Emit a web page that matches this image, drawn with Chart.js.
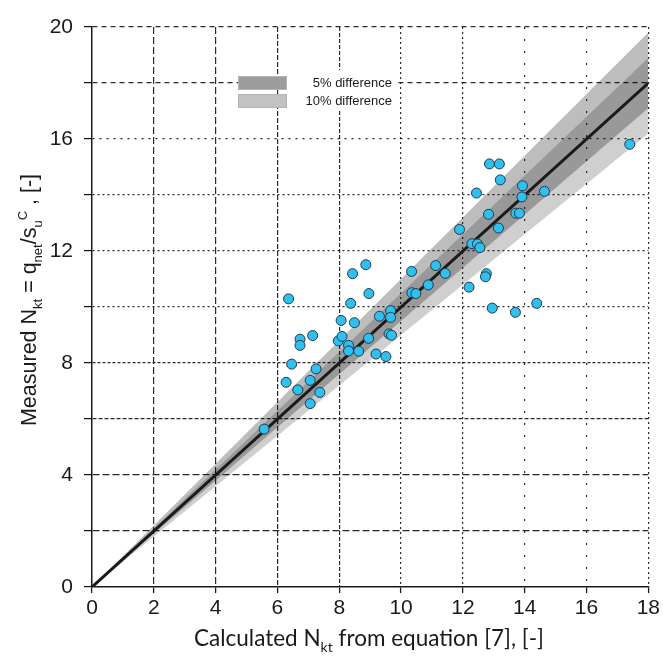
<!DOCTYPE html>
<html>
<head>
<meta charset="utf-8">
<script src="https://cdn.jsdelivr.net/npm/chart.js@4/dist/chart.umd.min.js"></script>
<style>
  html, body { margin: 0; padding: 0; background: #fff; }
  #wrap { width: 663px; height: 659px; }
</style>
</head>
<body>
<div id="wrap"><canvas id="chartNkt" width="663" height="659"></canvas></div>
<script>
/* ---- dados ---- */
var CALC_NKT = [5.57, 6.36, 6.46, 6.28, 6.73, 6.73, 7.14, 6.66, 7.06, 7.25, 7.06, 7.37,
                7.97, 8.09, 8.06, 8.30, 8.30, 8.63, 8.49, 8.37, 8.43, 8.86, 8.96, 8.95,
                9.19, 9.51, 9.30, 9.66, 9.66, 9.61, 9.69, 10.34, 10.35, 10.48, 10.88, 11.12,
                17.40, 12.86, 13.18, 13.21, 12.44, 13.93, 13.91, 14.64, 12.83, 13.71, 13.83,
                13.15, 11.89, 12.29, 12.47, 12.55, 11.43, 12.20, 12.76, 12.73, 12.95, 13.70, 14.39];
var MEAS_NKT = [5.64, 10.29, 7.96, 7.31, 8.85, 8.63, 8.98, 7.04, 7.38, 7.79, 6.55, 6.95,
                8.79, 8.95, 9.52, 8.63, 8.43, 8.42, 9.44, 10.13, 11.19, 11.51, 10.48, 8.88,
                8.32, 8.23, 9.67, 9.87, 9.63, 9.04, 8.99, 11.27, 10.51, 10.48, 10.79, 11.48,
                15.81, 15.11, 15.11, 14.54, 14.07, 14.33, 13.93, 14.13, 13.31, 13.35, 13.35,
                12.82, 12.77, 12.26, 12.25, 12.12, 11.20, 10.71, 11.19, 11.08, 9.96, 9.81, 10.13];

var LINE_X       = [0, 18];                    // linha 1:1
var BAND_FACTORS = [1.10, 1.05, 0.95, 0.90];   // limites 10% / 5%
var X_TICKS      = [0, 2, 4, 6, 8, 10, 12, 14, 16, 18];
var Y_TICKS      = [0, 4, 8, 12, 16, 20];
var LEGEND_LABELS = ['5% difference', '10% difference'];

/* estilos de tracejado da grade (por valor) */
var X_DASH = {2: [7, 3], 4: [7, 3], 6: [5, 2], 8: [4, 2], 10: [2, 3], 12: [2, 3], 14: [2, 10], 16: [2, 10], 18: [2, 3]};
var Y_DASH = {2: [7, 3], 4: [7, 3], 6: [4, 2], 8: [3, 2], 10: [2, 3], 12: [2, 3], 14: [2, 3], 16: [2, 5], 18: [5, 4], 20: [5, 4]};

var SANS = '"Liberation Sans", Arial, Helvetica, sans-serif';
Chart.defaults.font.family = SANS;
var TICK_FONT = { family: SANS, size: 21 };

function linePts(f) {
    return LINE_X.map(function(x) { return { x: x, y: x * f }; });
}

var pts = CALC_NKT.map(function(x, i) { return { x: x, y: MEAS_NKT[i] }; });

/* ---- títulos com subscrito / sobrescrito ---- */
function drawRich(ctx, parts, size, family) {
    var total = 0;
    parts.forEach(function(p) {
        ctx.font = (p.s ? Math.round(size * 0.62) : size) + 'px ' + family;
        p.w = ctx.measureText(p.t).width;
        total += p.w;
    });
    var x = -total / 2;
    parts.forEach(function(p) {
        ctx.font = (p.s ? Math.round(size * 0.62) : size) + 'px ' + family;
        var dy = p.s === 'sub' ? size * 0.28 : (p.s === 'sup' ? -size * 0.42 : 0);
        ctx.fillText(p.t, x, dy);
        x += p.w;
    });
}

var titlesPlugin = {
    id: 'titlesNkt',
    afterDraw: function(chart) {
        var ctx = chart.ctx;
        ctx.save();
        ctx.fillStyle = '#1a1a1a';
        ctx.textBaseline = 'alphabetic';
        ctx.textAlign = 'left';
        // eixo x
        ctx.save();
        ctx.translate(369, 646);
        drawRich(ctx, [
            { t: 'Calculated N' }, { t: 'kt', s: 'sub' }, { t: ' from equation [7], [-]' }
        ], 22.5, 'Lato, "Open Sans", sans-serif');
        ctx.restore();
        // eixo y
        ctx.save();
        ctx.translate(36, 300);
        ctx.rotate(-Math.PI / 2);
        drawRich(ctx, [
            { t: 'Measured N' }, { t: 'kt', s: 'sub' }, { t: ' = q' }, { t: 'net', s: 'sub' },
            { t: '/s' }, { t: 'u', s: 'sub' }, { t: 'C', s: 'sup' }, { t: ' , [-]' }
        ], 21.5, SANS);
        ctx.restore();
        ctx.restore();
    }
};

/* ---- legenda das faixas ---- */
var legendPlugin = {
    id: 'legendBands',
    afterDatasetsDraw: function(chart) {
        var ctx = chart.ctx;
        var a = chart.chartArea;
        var bx = a.left + 146, by = a.top + 49;
        ctx.save();
        ctx.fillStyle = '#ffffff';
        ctx.fillRect(bx + 50, by - 6, 108, 40);
        var fills = ['#9c9c9c', '#c2c2c2'];
        for (var i = 0; i < 2; i++) {
            var y = by + i * 18;
            ctx.fillStyle = fills[i];
            ctx.fillRect(bx, y, 49, 14);
            ctx.strokeStyle = '#b4b4b4';
            ctx.lineWidth = 1;
            ctx.strokeRect(bx + 0.5, y + 0.5, 48, 13);
            ctx.fillStyle = '#1a1a1a';
            ctx.font = '13px ' + SANS;
            ctx.textAlign = 'right';
            ctx.textBaseline = 'middle';
            ctx.fillText(LEGEND_LABELS[i], bx + 154, y + 7);
        }
        ctx.restore();
    }
};

var canvas = document.getElementById('chartNkt');
new Chart(canvas, {
    type: 'scatter',
    data: {
        datasets: [
            { data: linePts(BAND_FACTORS[0]), showLine: true, pointRadius: 0, borderWidth: 0, fill: false, order: 5 },
            { data: linePts(BAND_FACTORS[1]), showLine: true, pointRadius: 0, borderWidth: 0, order: 4,
              fill: { target: '-1' }, backgroundColor: 'rgba(0,0,0,0.26)' },
            { data: linePts(BAND_FACTORS[2]), showLine: true, pointRadius: 0, borderWidth: 0, order: 3,
              fill: { target: '-1' }, backgroundColor: 'rgba(0,0,0,0.40)' },
            { data: linePts(BAND_FACTORS[3]), showLine: true, pointRadius: 0, borderWidth: 0, order: 2,
              fill: { target: '-1' }, backgroundColor: 'rgba(0,0,0,0.19)' },
            { data: linePts(1), showLine: true, pointRadius: 0, borderWidth: 3, borderColor: '#1a1a1a', order: 1 },
            { data: pts, pointRadius: 5, pointBackgroundColor: '#31c0ee', pointBorderColor: '#1c3a4c',
              pointBorderWidth: 1, order: 0 }
        ]
    },
    options: {
        responsive: false, animation: false,
        layout: { padding: { left: 0, right: 14, top: 27, bottom: 0 } },
        plugins: { legend: { display: false }, tooltip: { enabled: false } },
        scales: {
            x: {
                type: 'linear', min: 0, max: 18,
                afterFit: function(s) { s.height = 72; },
                afterBuildTicks: function(s) { s.ticks = X_TICKS.map(function(v) { return { value: v }; }); },
                ticks: { font: TICK_FONT, color: '#1a1a1a', padding: 3, maxRotation: 0 },
                grid: {
                    color: function(c) { return c.tick && c.tick.value === 0 ? 'rgba(0,0,0,0)' : '#2a2a2a'; },
                    lineWidth: 1.2, tickLength: 6, tickColor: '#1a1a1a', tickWidth: 1.3, tickBorderDash: []
                },
                border: {
                    display: true, color: '#1a1a1a', width: 1.5,
                    dash: function(c) { return c.tick ? (X_DASH[c.tick.value] || []) : []; }
                }
            },
            y: {
                type: 'linear', min: 0, max: 20,
                afterFit: function(s) { s.width = 92; },
                ticks: {
                    stepSize: 2, font: TICK_FONT, color: '#1a1a1a', padding: 11,
                    callback: function(v) { return Y_TICKS.indexOf(v) >= 0 ? String(v) : ''; }
                },
                grid: {
                    color: function(c) { return c.tick && c.tick.value === 0 ? 'rgba(0,0,0,0)' : '#2a2a2a'; },
                    lineWidth: 1.2, tickLength: 8, tickColor: '#1a1a1a', tickWidth: 1.3, tickBorderDash: []
                },
                border: {
                    display: true, color: '#1a1a1a', width: 1.5,
                    dash: function(c) { return c.tick ? (Y_DASH[c.tick.value] || []) : []; }
                }
            }
        }
    },
    plugins: [titlesPlugin, legendPlugin]
});
</script>
</body>
</html>
